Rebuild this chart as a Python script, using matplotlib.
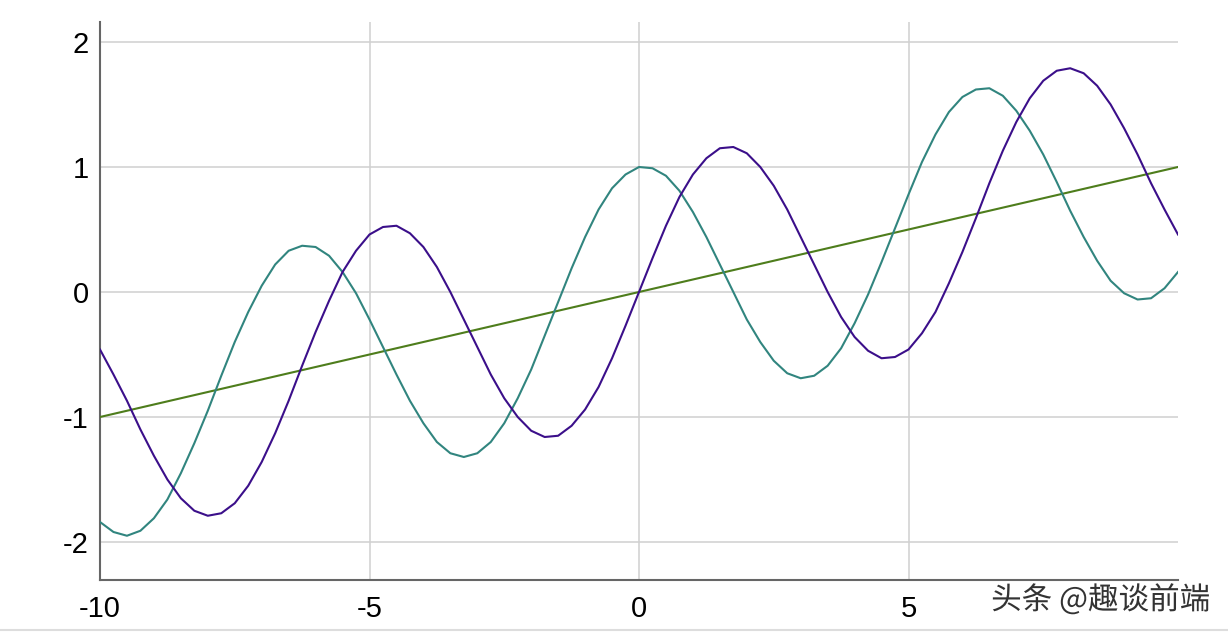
import matplotlib.pyplot as plt
import matplotlib.patheffects as pe
import numpy as np

# sample positions read along the x axis
x_values = np.arange(-10, 10.01, 0.25)

# purple curve, values
purple_y = [-0.46, -0.66, -0.87, -1.10, -1.31, -1.50, -1.65, -1.75, -1.79, -1.77,
            -1.69, -1.55, -1.36, -1.13, -0.87, -0.59, -0.32, -0.07, 0.16, 0.33,
            0.46, 0.52, 0.53, 0.47, 0.36, 0.20, 0.00, -0.22, -0.44, -0.66,
            -0.85, -1.00, -1.11, -1.16, -1.15, -1.07, -0.94, -0.76, -0.53, -0.27,
            0.00,
            0.27, 0.53, 0.76, 0.94, 1.07, 1.15, 1.16, 1.11, 1.00, 0.85,
            0.66, 0.44, 0.22, 0.00, -0.20, -0.36, -0.47, -0.53, -0.52, -0.46,
            -0.33, -0.16, 0.07, 0.32, 0.59, 0.87, 1.13, 1.36, 1.55, 1.69,
            1.77, 1.79, 1.75, 1.65, 1.50, 1.31, 1.10, 0.87, 0.66, 0.46]

# teal curve, values
teal_y = [-1.84, -1.92, -1.95, -1.91, -1.81, -1.66, -1.45, -1.21, -0.95, -0.67,
          -0.40, -0.16, 0.05, 0.22, 0.33, 0.37, 0.36, 0.29, 0.16, -0.01,
          -0.22, -0.44, -0.66, -0.87, -1.05, -1.20, -1.29, -1.32, -1.29, -1.20,
          -1.05, -0.85, -0.62, -0.35, -0.08, 0.19, 0.44, 0.66, 0.83, 0.94,
          1.00,
          0.99, 0.93, 0.81, 0.64, 0.44, 0.22, 0.00, -0.22, -0.40, -0.55,
          -0.65, -0.69, -0.67, -0.59, -0.45, -0.25, -0.02, 0.24, 0.51, 0.78,
          1.04, 1.26, 1.44, 1.56, 1.62, 1.63, 1.57, 1.45, 1.29, 1.10,
          0.88, 0.65, 0.44, 0.25, 0.09, -0.01, -0.06, -0.05, 0.03, 0.16]

# straight green line
line_x = [-10, 10]
line_y = [-1, 1]

x_ticks = [-10, -5, 0, 5]
y_ticks = [-2, -1, 0, 1, 2]

plt.rcParams['font.family'] = ['Liberation Sans', 'Noto Sans CJK SC', 'DejaVu Sans']
plt.rcParams['axes.unicode_minus'] = False

fig = plt.figure(figsize=(12.28, 6.32), dpi=100)
ax = fig.add_axes([100 / 1228, 52 / 632, 1078 / 1228, 558 / 632])

ax.plot(line_x, line_y, color='#4e7d1c', lw=1.5, zorder=3)
ax.plot(x_values, teal_y, color='#31857f', lw=1.5, zorder=3, solid_joinstyle='round')
ax.plot(x_values, purple_y, color='#3b0f8a', lw=1.5, zorder=3, solid_joinstyle='round')

ax.set_xlim(-10, 10)
ax.set_ylim(-2.304, 2.16)
ax.set_xticks(x_ticks)
ax.set_yticks(y_ticks)
ax.grid(True, color='#d0d0d0', lw=1.1)
ax.set_axisbelow(True)

for s in ['top', 'right']:
    ax.spines[s].set_visible(False)
for s in ['left', 'bottom']:
    ax.spines[s].set_color('#666666')
    ax.spines[s].set_linewidth(1.5)

ax.tick_params(axis='both', length=0, labelsize=21, colors='black')
ax.tick_params(axis='x', pad=11)
ax.tick_params(axis='y', pad=8)

# bottom separator and watermark
fig.add_artist(plt.Line2D([0, 1], [2 / 632, 2 / 632], color='#dddddd', lw=1.5))
fig.text(1210 / 1228, 32 / 632, '头条 @趣谈前端', ha='right', va='center',
         fontsize=22, color='#333333', family=['Noto Sans CJK SC', 'DejaVu Sans'],
         path_effects=[pe.withStroke(linewidth=3, foreground='white')])

fig.savefig('out.png', dpi=100)
